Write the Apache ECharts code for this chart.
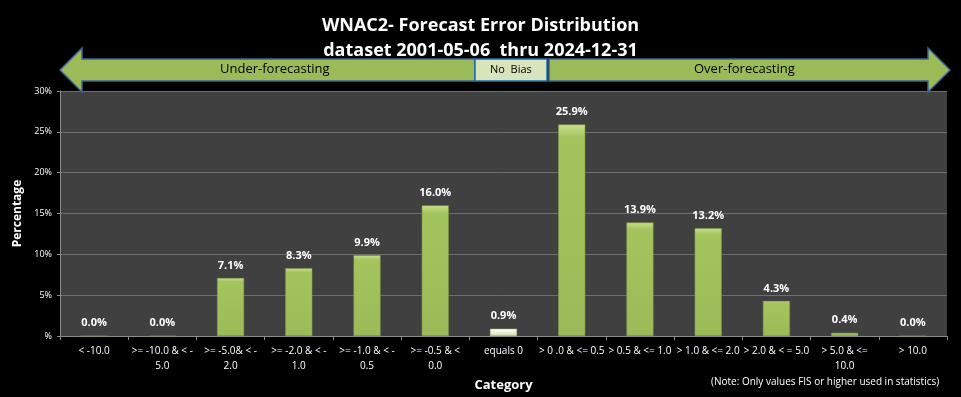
<!DOCTYPE html>
<html>
<head>
<meta charset="UTF-8">
<title>WNAC2 Forecast Error Distribution</title>
<script src="https://cdn.jsdelivr.net/npm/echarts@6/dist/echarts.min.js"></script>
<style>
  html, body { margin: 0; padding: 0; background: #000; }
  #main { width: 961px; height: 397px; }
</style>
</head>
<body>
<div id="main"></div>
<script>
// categories (error ranges)
var categories = [
  '< -10.0',
  '>= -10.0 & < -\n5.0',
  '>= -5.0& < -\n2.0',
  '>= -2.0 & < -\n1.0',
  '>= -1.0 & < -\n0.5',
  '>= -0.5 & <\n0.0',
  'equals 0',
  '> 0 .0 & <= 0.5',
  '> 0.5 & <= 1.0',
  '> 1.0 & <= 2.0',
  '> 2.0 & < = 5.0',
  '> 5.0 & <=\n10.0',
  '> 10.0'
];
// percentage of forecasts per category
var percents = [0.0, 0.0, 7.1, 8.3, 9.9, 16.0, 0.9, 25.9, 13.9, 13.2, 4.3, 0.4, 0.0];

var font = '"Open Sans", "Noto Sans", sans-serif';
var barGreen = new echarts.graphic.LinearGradient(0, 0, 0, 1, [
  { offset: 0, color: '#c9e08a' },
  { offset: 0.06, color: '#a4c45e' },
  { offset: 1, color: '#9bbb59' }
]);
var barPale = new echarts.graphic.LinearGradient(0, 0, 0, 1, [
  { offset: 0, color: '#ffffff' },
  { offset: 0.4, color: '#eef4dc' },
  { offset: 1, color: '#cfdcaa' }
]);

var chart = echarts.init(document.getElementById('main'));

var option = {
  backgroundColor: '#000',
  animation: false,
  title: {
    text: 'WNAC2- Forecast Error Distribution\ndataset 2001-05-06  thru 2024-12-31',
    left: 'center',
    top: 8,
    textStyle: { color: '#fff', fontSize: 18, fontWeight: 'bold', fontFamily: font, lineHeight: 25 }
  },
  grid: { left: 60, right: 14, top: 91, bottom: 52, backgroundColor: '#404040', show: true, borderWidth: 0 },
  xAxis: {
    type: 'category',
    data: categories,
    name: 'Category',
    nameLocation: 'middle',
    nameGap: 36,
    nameTextStyle: { color: '#fff', fontSize: 13, fontWeight: 'bold', fontFamily: font },
    axisLine: { lineStyle: { color: '#8c8c8c' } },
    axisTick: { show: true, lineStyle: { color: '#8c8c8c' }, length: 4 },
    axisLabel: { color: '#fff', fontSize: 10, fontFamily: font, interval: 0, lineHeight: 15, margin: 8 }
  },
  yAxis: {
    type: 'value',
    min: 0,
    max: 30,
    interval: 5,
    name: 'Percentage',
    nameLocation: 'middle',
    nameGap: 36,
    nameTextStyle: { color: '#fff', fontSize: 12, fontWeight: 'bold', fontFamily: font },
    axisLine: { show: true, lineStyle: { color: '#8c8c8c' } },
    axisTick: { show: true, lineStyle: { color: '#8c8c8c' }, length: 3 },
    splitLine: { lineStyle: { color: '#6e6e6e', width: 1 } },
    axisLabel: {
      color: '#fff', fontSize: 9, fontFamily: font, margin: 8,
      formatter: function (v) { return v === 0 ? '%' : v + '%'; }
    }
  },
  series: [{
    type: 'bar',
    barWidth: 27,
    data: percents.map(function (v, i) {
      return {
        value: v,
        itemStyle: { color: i === 6 ? barPale : barGreen, borderColor: i === 6 ? '#9bbb59' : '#7f9a45', borderWidth: 0.5 }
      };
    }),
    label: {
      show: true,
      position: 'top',
      distance: 7,
      color: '#fff',
      fontSize: 11,
      fontWeight: 'bold',
      fontFamily: font,
      formatter: function (p) { return p.value.toFixed(1) + '%'; }
    }
  }],
  graphic: [
    // under-forecasting arrow (left)
    {
      type: 'polygon', z: 100,
      shape: { points: [[60, 70], [82, 48], [82, 59], [475, 59], [475, 81], [82, 81], [82, 92]] },
      style: { fill: '#9bbb59', stroke: '#3d6595', lineWidth: 1.5 }
    },
    {
      type: 'text', z: 101, left: 220, top: 63,
      style: { text: 'Under-forecasting', fill: '#000', fontSize: 13, fontFamily: font }
    },
    // no bias box
    {
      type: 'rect', z: 100,
      shape: { x: 475, y: 59, width: 72, height: 22 },
      style: { fill: '#d7e4bc', stroke: '#1f6fb5', lineWidth: 1.5 }
    },
    {
      type: 'text', z: 101, left: 490, top: 64,
      style: { text: 'No  Bias', fill: '#000', fontSize: 11, fontFamily: font }
    },
    // over-forecasting arrow (right)
    {
      type: 'polygon', z: 100,
      shape: { points: [[549, 59], [928, 59], [928, 48], [950, 70], [928, 92], [928, 81], [549, 81]] },
      style: { fill: '#9bbb59', stroke: '#3d6595', lineWidth: 1.5 }
    },
    {
      type: 'text', z: 101, left: 694, top: 63,
      style: { text: 'Over-forecasting', fill: '#000', fontSize: 13, fontFamily: font }
    },
    {
      type: 'text', left: 711, top: 377,
      style: { text: '(Note: Only values FIS or higher used in statistics)', fill: '#fff', fontSize: 10, fontFamily: font }
    }
  ]
};

chart.setOption(option);
</script>
</body>
</html>
